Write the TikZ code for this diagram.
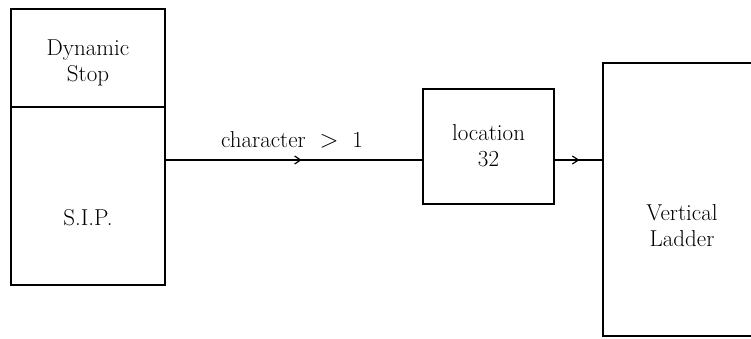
\documentclass[tikz,border=0pt]{standalone}
\usetikzlibrary{decorations.markings,arrows.meta}
\begin{document}
\begin{tikzpicture}[x=1pt,y=-1pt,
  box/.style={draw,line width=1.6pt,inner sep=0pt,minimum width=#1},
  txt/.style={font=\fontsize{23}{26}\selectfont,align=center,inner sep=0pt},
  flow/.style={line width=1.2pt,postaction={decorate},
    decoration={markings,mark=at position #1 with {\arrow{Straight Barb[length=6pt,width=8pt,line width=1.2pt]}}}}]
\clip (0,0) rectangle (751,338);
\node[box=154pt,minimum height=98pt] (ds) at (88,58) {};
\node[box=154pt,minimum height=178pt] (sip) at (88,196) {};
\node[box=131pt,minimum height=115pt] (loc) at (488.5,146.5) {};
\node[box=220pt,minimum height=273pt] (lad) at (713,199.5) {};
\node[txt] (tds) at (88,63) {Dynamic\\Stop};
\node[txt] (tsip) at (88,218) {S.I.P.};
\node[txt] (tloc) at (488.5,146) {location\\32};
\node[txt] (tlad) at (682,226) {Vertical\\Ladder};
\coordinate (a1) at ([yshift=-13.5pt]loc.west);
\coordinate (a2) at ([yshift=-13.5pt]loc.east);
\draw[flow=0.53] (sip.east |- a1) -- (a1);
\draw[flow=0.52] (a2) -- (lad.west |- a2);
\node[txt] (lbl) at (292,140) {character ${}>{}$ 1};
\end{tikzpicture}
\end{document}
